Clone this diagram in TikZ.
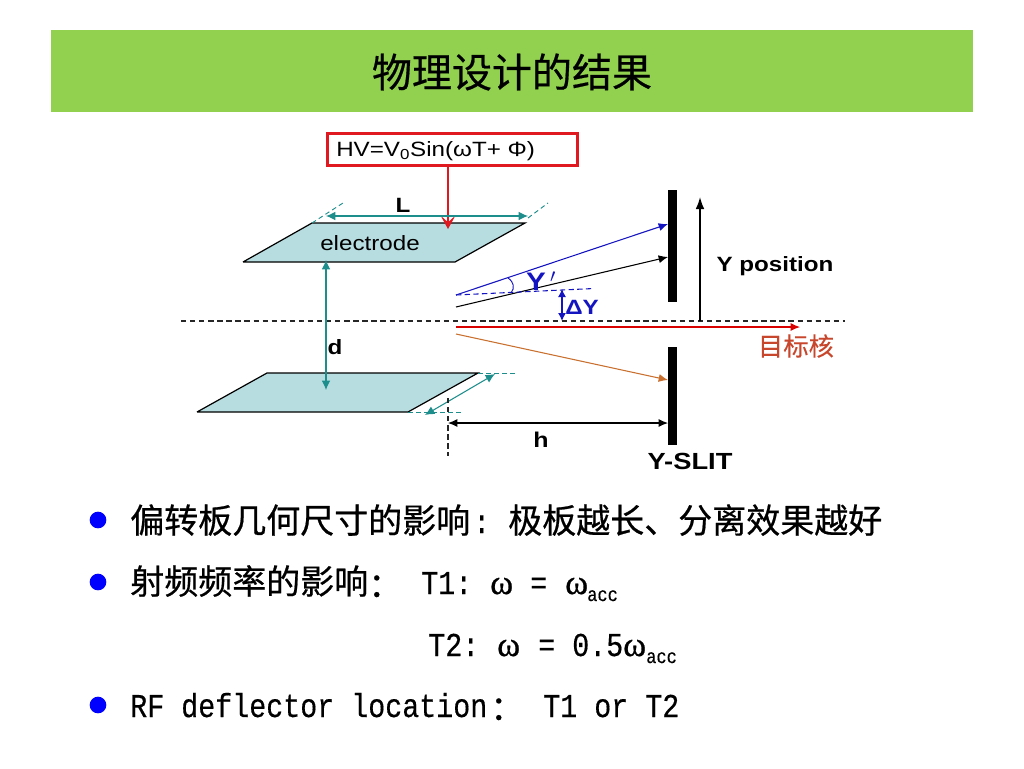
\documentclass[tikz,border=0pt]{standalone}
\usepackage{fontspec}
\usetikzlibrary{arrows.meta}
\setmainfont{Liberation Sans}
\newfontfamily\labw[FakeStretch=1.17]{Liberation Sans}
\newfontfamily\cjk[FakeBold=0.5]{Noto Sans CJK SC}
\newfontfamily\cjkbody[FakeBold=0.6]{Noto Sans CJK SC}
\newfontfamily\cjkred[FakeBold=0.2]{Noto Sans CJK SC}
\newfontfamily\latinbody[FakeStretch=0.85,FakeBold=0.4]{Liberation Mono}
\newfontfamily\sersym[FakeBold=0.8]{Liberation Serif}
\definecolor{titlegreen}{HTML}{92D050}
\definecolor{plate}{HTML}{B7DDE0}
\definecolor{tealc}{HTML}{1E8E8C}
\definecolor{boxred}{HTML}{E0181F}
\definecolor{orangec}{HTML}{C9702F}
\definecolor{bluec}{HTML}{1414C0}
\definecolor{labelred}{HTML}{C8462C}
\tikzset{
  x=0.75pt,y=-0.75pt,
  blab/.style={inner sep=0pt,font=\fontsize{15.5pt}{18pt}\selectfont\labw\bfseries},
  body/.style={inner sep=0pt,anchor=base west,text=black},
  cjkt/.style={body,font=\fontsize{25.5pt}{30pt}\selectfont\cjkbody},
  mono/.style={body,font=\fontsize{25pt}{30pt}\selectfont\latinbody},
  omg/.style={body,font=\fontsize{26pt}{30pt}\selectfont\sersym},
  subs/.style={body,font=\fontsize{15pt}{18pt}\selectfont\latinbody},
  bullet/.style={circle,fill=blue,inner sep=0pt,minimum size=12.5pt},
  slit/.style={fill=black,inner sep=0pt,minimum width=6.5pt},
  tealarr/.style={draw=tealc,line width=0.8pt,{Latex[length=7pt,width=6.5pt]}-{Latex[length=7pt,width=6.5pt]}},
  teald/.style={draw=tealc,line width=0.7pt,dash pattern=on 3.5pt off 2.5pt},
  blackd/.style={draw=black!85,line width=0.85pt,dash pattern=on 4pt off 2.8pt},
  ray/.style={line width=0.8pt,-{Latex[length=7pt,width=6pt]}},
}
\begin{document}
\begin{tikzpicture}
\useasboundingbox (0,0) rectangle (1024,768);
\fill[white] (0,0) rectangle (1024,768);
\node[fill=titlegreen,inner sep=0pt,minimum width=691.5pt,minimum height=61.5pt] (titlebar) at (512,71) {};
\node[inner sep=0pt,font=\fontsize{30pt}{36pt}\selectfont\cjk] (title) at (512,72) {物理设计的结果};

% plates
\coordinate (p1a) at (312,223); \coordinate (p1b) at (525,223); \coordinate (p1c) at (455,262); \coordinate (p1d) at (243,262);
\coordinate (p2a) at (267,373); \coordinate (p2b) at (478,373); \coordinate (p2c) at (408,412); \coordinate (p2d) at (197,412);
\path[fill=plate] (p1a)--(p1b)--(p1c)--(p1d)--cycle;
\path[fill=plate] (p2a)--(p2b)--(p2c)--(p2d)--cycle;
\draw[line width=0.9pt] (p1d)--(p1a)--(p1b)--(p1c)--(p1d);
\draw[line width=0.9pt] (p2d)--(p2a)--(p2b)--(p2c)--(p2d);
\node[inner sep=0pt,font=\fontsize{15.5pt}{18pt}\selectfont\labw] (el) at (370,243) {electrode};

% centre line
\coordinate (cl) at (181,321); \coordinate (cr) at (845,321);
\draw[blackd] (cl)--(cr);

% HV box
\node[draw=boxred,line width=2.2pt,minimum width=188pt,minimum height=24pt,inner sep=0pt,fill=white] (hv) at (452.5,149.5) {};
\node[inner sep=0pt,anchor=base west,font=\fontsize{15.5pt}{18pt}\selectfont\labw] (hvt) at (336,156) {HV=V\textsubscript{0}Sin(ωT+ Φ)};
\coordinate (hvs) at (448,166); \coordinate (hve) at (448,229);
\draw[draw=boxred,line width=1.9pt,-{Stealth[length=10pt,width=11pt,inset=5pt]}] (hvs)--(hve);

% L
\coordinate (la) at (326,216); \coordinate (lb) at (528,216);
\draw[tealarr] (la)--(lb);
\coordinate (l1) at (343,203); \coordinate (l2) at (548,203); \coordinate (l3) at (528,218);
\draw[teald] (p1a)--(l1) (l3)--(l2);
\node[blab] (ll) at (403,205) {L};

% d
\coordinate (da) at (326,260); \coordinate (db) at (326,390);
\draw[tealarr] (da)--(db);
\node[blab] (dl) at (335,347) {d};

% lower width
\coordinate (wa) at (425,415); \coordinate (wb) at (495,374);
\draw[tealarr] (wa)--(wb);
\coordinate (w1) at (516,373); \coordinate (w2) at (463,412);
\draw[teald] (p2b)--(w1) (p2c)--(w2);

% h
\coordinate (hv1) at (448,398); \coordinate (hv2) at (448,456);
\draw[blackd] (hv1)--(hv2);
\node[slit,minimum height=84pt] (s1) at (672.5,246) {};
\node[slit,minimum height=74pt] (s2) at (672.5,396) {};
\coordinate (ha) at (448,423); \coordinate (hb) at (668,423);
\draw[line width=0.8pt,{Latex[length=7pt,width=6pt]}-{Latex[length=7pt,width=6pt]}] (ha)--(hb);
\node[blab,font=\fontsize{16pt}{18pt}\selectfont\labw\bfseries] (hl) at (541,440) {h};
\node[blab,font=\fontsize{17.5pt}{20pt}\selectfont\labw\bfseries] (ys) at (690,461) {Y-SLIT};

% rays
\coordinate (b0) at (456,295); \coordinate (b1) at (668,224);
\coordinate (k0) at (456,307); \coordinate (k1) at (668,257);
\coordinate (o0) at (456,334); \coordinate (o1) at (668,380);
\coordinate (r0) at (456,327); \coordinate (r1) at (800,327);
\draw[ray,draw=bluec] (b0)--(b1);
\draw[ray,draw=black] (k0)--(k1);
\draw[ray,draw=orangec] (o0)--(o1);
\draw[ray,draw=red!85!black] (r0)--(r1);
\coordinate (bd) at (594,288.5);
\draw[draw=bluec,line width=0.8pt,dash pattern=on 4pt off 2.5pt] (b0)--(bd);
\draw[draw=bluec,line width=0.7pt] (508,278) .. controls (514,282) and (515,288) .. (511,293);
\node[inner sep=0pt,font=\fontsize{19pt}{22pt}\selectfont\labw\bfseries,text=bluec] (yp) at (541,281) {Y\,$'$};
\coordinate (dya) at (562,289); \coordinate (dyb) at (562,321);
\draw[draw=bluec,line width=0.9pt,{Latex[length=6pt,width=6pt]}-{Latex[length=6pt,width=6pt]}] (dya)--(dyb);
\node[inner sep=0pt,font=\fontsize{15.5pt}{18pt}\selectfont\labw\bfseries,text=bluec] (dy) at (582,307) {ΔY};
\coordinate (yb) at (700,321); \coordinate (yt) at (700,197);
\draw[line width=1.1pt,-{Latex[length=9pt,width=6.5pt]}] (yb)--(yt);
\node[blab] (yl) at (775,266) {Y position};
\node[inner sep=0pt,text=labelred,font=\fontsize{19pt}{22pt}\selectfont\cjkred] (mb) at (796,346) {目标核};

% body text
\node[bullet] (b1d) at (98,520) {};
\node[bullet] (b2d) at (98,582) {};
\node[bullet] (b3d) at (98,705) {};
\node[cjkt] (a1) at (130,533) {偏转板几何尺寸的影响};
\node[mono] (a2) at (473,533) {:};
\node[cjkt] (a3) at (508,533) {极板越长、分离效果越好};
\node[cjkt] (c1) at (130,594) {射频频率的影响};
\node[cjkt] (c1b) at (368,597) {：};
\node[mono] (c2) at (421,594) {T1:};
\node[omg] (c3) at (490,594) {ω};
\node[mono] (c4) at (530,594) {=};
\node[omg] (c5) at (565,594) {ω};
\node[subs] (c6) at (587,601) {acc};
\node[mono] (d1) at (428,656) {T2:};
\node[omg] (d2) at (497,656) {ω};
\node[mono] (d3) at (538,656) {=};
\node[mono] (d4) at (572,656) {0.5};
\node[omg] (d5) at (623,656) {ω};
\node[subs] (d6) at (646,663) {acc};
\node[mono] (e1) at (130,717) {RF deflector location};
\node[cjkt] (e2) at (490,720) {：};
\node[mono] (e3) at (543,717) {T1 or T2};
\end{tikzpicture}
\end{document}
